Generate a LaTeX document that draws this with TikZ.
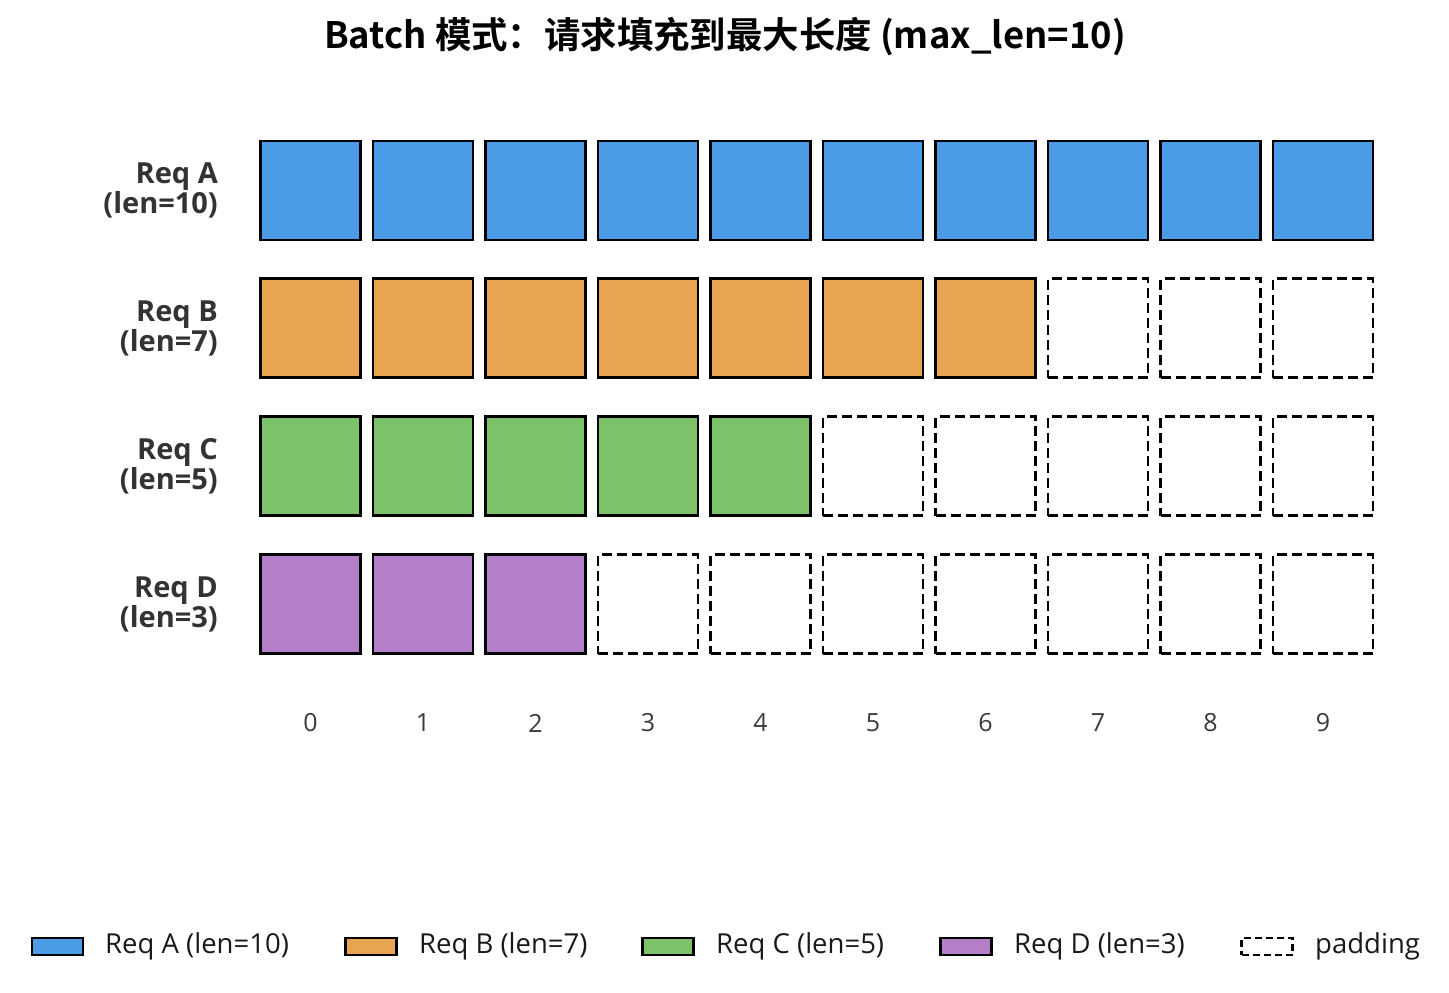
\documentclass[tikz,border=0pt]{standalone}
\usepackage{fontspec}
\setmainfont{Open Sans}
\newfontfamily\cjkbold{Noto Sans CJK SC Bold}
\definecolor{cA}{HTML}{4C9BE6}
\definecolor{cB}{HTML}{E8A450}
\definecolor{cC}{HTML}{7BC26B}
\definecolor{cD}{HTML}{B47EC8}
\definecolor{txt}{HTML}{333333}
\definecolor{idx}{HTML}{3A3A3A}
\tikzset{
  cell/.style={draw=black, line width=2.9pt, minimum width=100pt, minimum height=99pt, inner sep=0pt},
  padcell/.style={cell, line width=2.9pt, dash pattern=on 10pt off 5pt},
  rowlab/.style={anchor=east, align=right, text=txt, font=\fontsize{29}{30}\selectfont\bfseries, inner sep=0pt},
  idxlab/.style={text=idx, font=\fontsize{25}{28}\selectfont, inner sep=0pt},
  legpatch/.style={draw=black, line width=2.8pt, minimum width=51pt, minimum height=17pt, inner sep=0pt},
  legpad/.style={legpatch, line width=2.8pt, dash pattern=on 7pt off 4pt},
  legtext/.style={anchor=west, text=black!90, font=\fontsize{27.5}{30}\selectfont, inner sep=0pt},
}
\begin{document}
\begin{tikzpicture}[x=1pt,y=-1pt]
\path[use as bounding box] (0,0) rectangle (1449,993);
\node[font=\cjkbold\fontsize{36.4}{40}\selectfont, inner sep=0pt] (title) at (725,37) {Batch 模式：请求填充到最大长度 (max\_len=10)};
% rows
\foreach \r/\lab/\len/\col [count=\ri from 0] in {A/Req A/10/cA, B/Req B/7/cB, C/Req C/5/cC, D/Req D/3/cD}{
  \pgfmathsetmacro{\yy}{190.5+137.9*\ri}
  \node[rowlab] (lab\r) at (218,\yy) {\lab\\(len=\len)};
  \foreach \i in {0,...,9}{
    \pgfmathsetmacro{\xx}{310.5+112.5*\i}
    \ifnum\i<\len
      \node[cell, fill=\col] (c\r\i) at (\xx,\yy) {};
    \else
      \node[padcell, fill=white] (c\r\i) at (\xx,\yy) {};
    \fi
  }
}
\foreach \i in {0,...,9}{
  \pgfmathsetmacro{\xx}{310.5+112.5*\i}
  \node[idxlab] (idx\i) at (\xx,723) {\i};
}
% legend
\node[legpatch, fill=cA] (lpA) at (57.5,946.5) {};
\node[legtext] (ltA) at (105,946) {Req A (len=10)};
\node[legpatch, fill=cB] (lpB) at (371,946.5) {};
\node[legtext] (ltB) at (419,946) {Req B (len=7)};
\node[legpatch, fill=cC] (lpC) at (668,946.5) {};
\node[legtext] (ltC) at (716,946) {Req C (len=5)};
\node[legpatch, fill=cD] (lpD) at (966,946.5) {};
\node[legtext] (ltD) at (1014,946) {Req D (len=3)};
\node[legpad, fill=white] (lpP) at (1267,946.5) {};
\node[legtext] (ltP) at (1315,946) {padding};
\end{tikzpicture}
\end{document}
